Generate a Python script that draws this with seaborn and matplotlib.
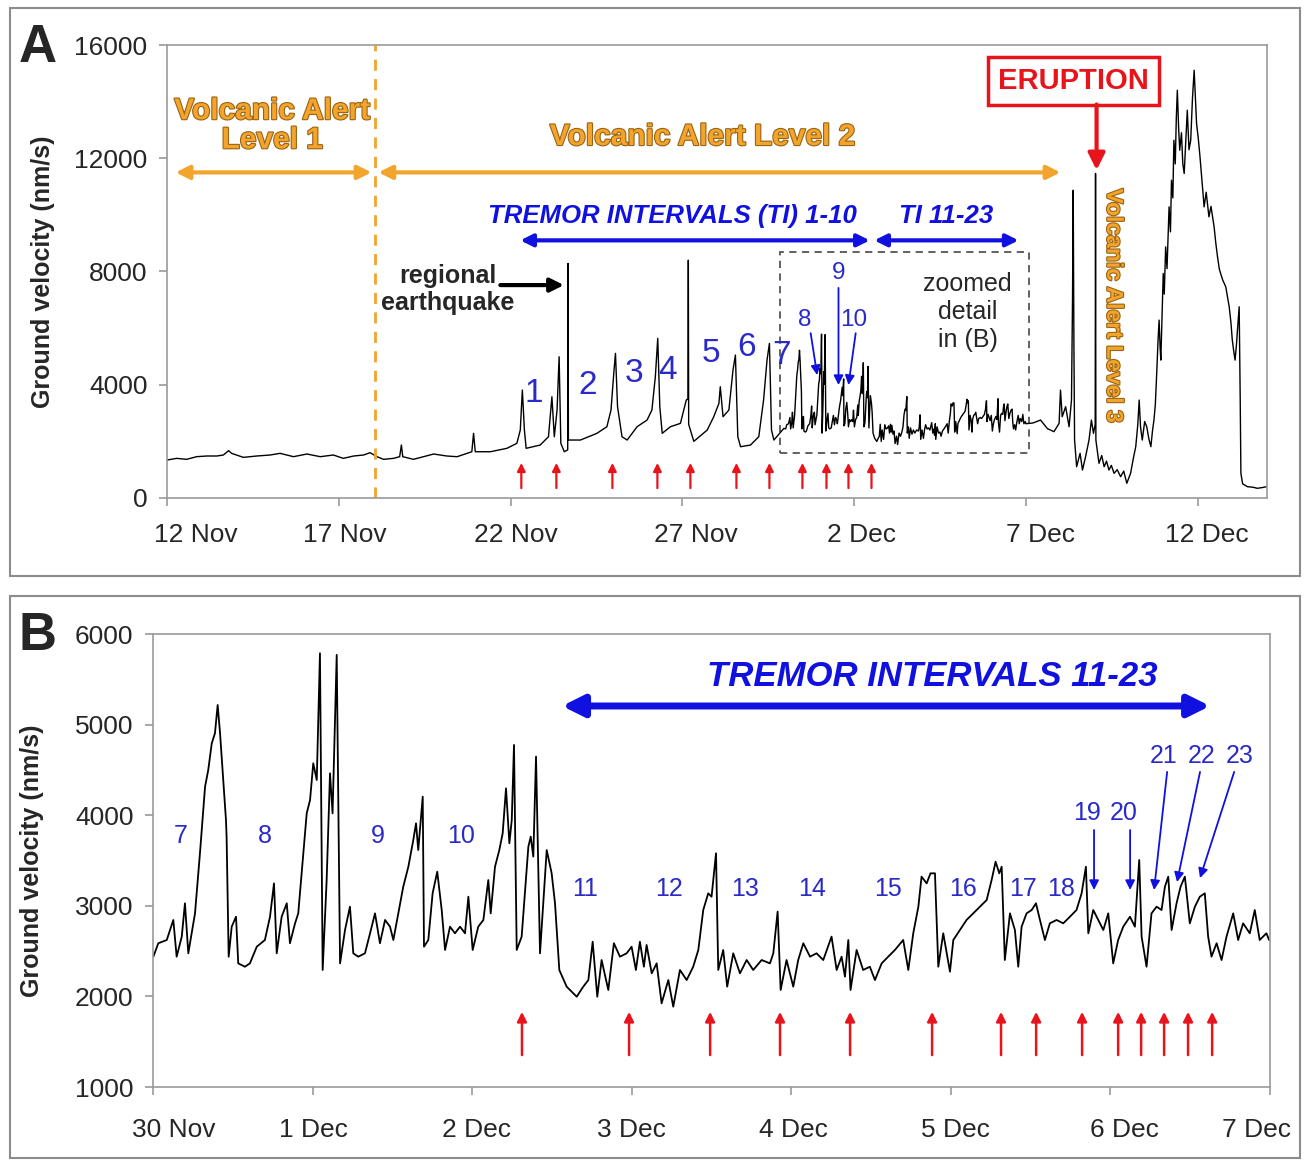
import matplotlib
matplotlib.use('Agg')
import matplotlib.pyplot as plt
import matplotlib.patheffects as pe
import matplotlib.transforms as mtrans
from matplotlib.patches import Rectangle
import pandas as pd
import seaborn as sns

# ---- panel A trace before the zoomed window (days after 12 Nov) ----
pre_days = [0, 0.28, 0.57, 0.86, 1.16, 1.45, 1.64, 1.79, 1.88, 2.22, 2.61, 3.0, 3.29, 3.68,
            4.07, 4.46, 4.84, 5.13, 5.43, 5.72, 5.91, 6.11, 6.3, 6.59, 6.77, 6.82, 6.86,
            7.17, 7.46, 7.76, 8.14, 8.44, 8.87, 8.92, 8.97, 9.41, 9.89, 10.18, 10.28,
            10.34, 10.4, 10.45, 10.86, 11.1, 11.2, 11.27, 11.35, 11.41, 11.46, 11.56,
            11.66, 11.67, 11.68, 12.03, 12.51, 12.8, 12.92, 13.0, 13.05, 13.11, 13.24,
            13.39, 13.68, 13.97, 14.11, 14.21, 14.28, 14.34, 14.41, 14.65, 14.94, 15.11,
            15.16, 15.17, 15.18, 15.33, 15.72, 15.91, 16.06, 16.1, 16.18, 16.35, 16.47,
            16.54, 16.61, 16.69, 16.98, 17.22, 17.36, 17.46, 17.53, 17.59, 17.66, 17.95]
pre_vel = [1341, 1400, 1365, 1459, 1483, 1483, 1518, 1671, 1577, 1435, 1483, 1518, 1577, 1459,
           1553, 1459, 1518, 1400, 1483, 1518, 1600, 1459, 1365, 1400, 1459, 1871, 1459,
           1365, 1459, 1553, 1483, 1458, 1634, 2284, 1634, 1634, 1754, 1931, 2400,
           3812, 2400, 1754, 1871, 2164, 3576, 2164, 3106, 4988, 1931, 1634,
           1700, 8285, 2047, 2047, 2284, 2518, 3106, 4402, 5108, 3223, 2164,
           2047, 2518, 2754, 3106, 4283, 5638, 3223, 2284, 2518, 2636, 3459,
           3500, 8400, 2600, 2000, 2400, 2871, 3341, 3929, 2871, 3106, 4518,
           5048, 2164, 1811, 1871, 2164, 3459, 4871, 5461, 2400, 2047, 2459]

# ---- panel B trace (days after 30 Nov) ----
b_days = [0.002, 0.033, 0.086, 0.127, 0.148, 0.18, 0.2, 0.221, 0.263, 0.294, 0.326, 0.346,
          0.368, 0.388, 0.405, 0.42, 0.44, 0.457, 0.461, 0.474, 0.493, 0.52, 0.534, 0.576,
          0.607, 0.65, 0.701, 0.733, 0.758, 0.775, 0.806, 0.838, 0.858, 0.89, 0.91, 0.942,
          0.963, 0.984, 1.004, 1.026, 1.046, 1.063, 1.088, 1.109, 1.125, 1.151, 1.172,
          1.203, 1.234, 1.255, 1.286, 1.328, 1.36, 1.391, 1.422, 1.454, 1.485, 1.506,
          1.537, 1.568, 1.6, 1.631, 1.648, 1.662, 1.69, 1.698, 1.725, 1.752, 1.781, 1.809,
          1.83, 1.861, 1.892, 1.924, 1.955, 1.976, 2.003, 2.038, 2.07, 2.101, 2.116, 2.143,
          2.17, 2.191, 2.212, 2.233, 2.248, 2.262, 2.279, 2.31, 2.352, 2.367, 2.383, 2.4,
          2.425, 2.467, 2.498, 2.519, 2.546,
          2.592, 2.655, 2.696, 2.728, 2.755, 2.784, 2.811, 2.853, 2.888, 2.926, 2.968,
          2.999, 3.026, 3.051, 3.076, 3.093, 3.125, 3.156, 3.187, 3.229, 3.26, 3.302,
          3.344, 3.385, 3.417, 3.448, 3.479, 3.5, 3.528, 3.542, 3.573, 3.598, 3.636,
          3.678, 3.72, 3.761, 3.814, 3.866, 3.887, 3.914, 3.933, 3.97, 4.012, 4.043,
          4.075, 4.117, 4.158, 4.2, 4.252, 4.284, 4.315, 4.336, 4.357, 4.371, 4.409,
          4.45, 4.492, 4.524, 4.566, 4.607, 4.649, 4.701, 4.733, 4.764, 4.796, 4.816,
          4.848, 4.872, 4.9, 4.921,
          4.952, 4.994, 5.015, 5.056, 5.098, 5.14, 5.182, 5.224, 5.255, 5.28, 5.303,
          5.318, 5.338, 5.37, 5.401, 5.422, 5.443, 5.474, 5.506, 5.533, 5.558, 5.589,
          5.62, 5.662, 5.704, 5.746, 5.787, 5.819, 5.846, 5.861, 5.892, 5.923, 5.955,
          5.986, 6.017, 6.048, 6.08, 6.122, 6.153, 6.18, 6.195, 6.226, 6.257, 6.289,
          6.32, 6.341, 6.362, 6.383, 6.414, 6.439, 6.466, 6.497, 6.529, 6.56, 6.591,
          6.612, 6.633, 6.665, 6.696, 6.727, 6.769, 6.8, 6.831, 6.873, 6.904, 6.935,
          6.977, 6.994]
b_vel = [2439, 2587, 2623, 2844, 2439, 2660, 3028, 2476, 2917, 3580, 4315, 4500,
         4794, 4905, 5217, 4905, 4389, 3948, 3764, 2439, 2770, 2880, 2365, 2328,
         2365, 2549, 2623, 2880, 3248, 2476, 2880, 3028, 2587, 2807, 2917, 3580,
         4021, 4169, 4573, 4389, 5788, 2292, 3285, 4463, 4021, 5770, 2365,
         2733, 2991, 2476, 2439, 2476, 2697, 2917, 2587, 2844, 2770, 2623,
         2917, 3211, 3432, 3727, 3911, 3616, 4205, 2549, 2623, 3138, 3377, 2954,
         2513, 2770, 2697, 2770, 2697, 3101, 2513, 2770, 2844, 3285, 2917, 3432,
         3616, 3800, 4297, 3690, 3948, 4776, 2513, 2660, 3653, 3764, 3543, 4647,
         2476, 3616, 3359, 3028, 2292,
         2108, 1997, 2108, 2181, 2604, 1997, 2402, 2071, 2587, 2439, 2476,
         2549, 2292, 2604, 2328, 2568, 2255, 2365, 1924, 2181, 1887, 2292,
         2181, 2328, 2513, 2954, 3138, 3101, 3580, 2292, 2513, 2108, 2476,
         2255, 2402, 2292, 2402, 2365, 2476, 2936, 2071, 2402, 2108, 2402,
         2587, 2439, 2476, 2402, 2660, 2292, 2439, 2218, 2623, 2071, 2513,
         2292, 2328, 2181, 2365, 2439, 2513, 2623, 2292, 2697, 2991, 3322,
         3248, 3359, 3359, 2328,
         2697, 2273, 2623, 2733, 2844, 2917, 2991, 3064, 3285, 3487, 3359,
         3432, 2402, 2917, 2733, 2328, 2770, 2917, 2954, 3028, 2844, 2623,
         2807, 2844, 2807, 2880, 2954, 3138, 3432, 2697, 2954, 2844, 2733,
         2917, 2365, 2623, 2770, 2880, 2770, 3506, 2660, 2328, 2917, 2991,
         2954, 3211, 3322, 2733, 3028, 3211, 3322, 2807, 2991, 3101, 3138,
         2660, 2439, 2587, 2402, 2660, 2917, 2623, 2807, 2697, 2954, 2623,
         2697, 2623]

# ---- panel A trace after 7 Dec (days after 12 Nov) ----
post_days = [25.2, 25.42, 25.62, 25.81, 25.96, 26.0, 26.05, 26.15, 26.25, 26.32, 26.35,
             26.37, 26.39, 26.41, 26.47, 26.57, 26.64, 26.73, 26.83, 26.9, 26.96, 27.01,
             27.02, 27.03, 27.12, 27.2, 27.27, 27.34, 27.41, 27.48, 27.56, 27.65, 27.75,
             27.84, 27.93, 28.04, 28.12, 28.19, 28.25, 28.29, 28.33, 28.38, 28.45, 28.51,
             28.57, 28.63, 28.68, 28.72, 28.76, 28.8, 28.84, 28.87, 28.9, 28.92, 28.96,
             28.99, 29.02, 29.06, 29.1, 29.16, 29.2, 29.23, 29.27, 29.3, 29.34, 29.37,
             29.4, 29.44, 29.47, 29.52, 29.56, 29.6, 29.65, 29.69, 29.74, 29.79, 29.84,
             29.89, 29.93, 29.96, 30.01, 30.06, 30.11, 30.18, 30.24, 30.32, 30.38, 30.47,
             30.52, 30.57, 30.62, 30.66, 30.72, 30.81, 30.86, 30.91, 30.96, 31.0, 31.04,
             31.08, 31.12, 31.15, 31.2, 31.23, 31.25, 31.3, 31.44, 31.6, 31.73, 31.88,
             32.0]
post_vel = [2650, 2753, 2450, 2342, 2636, 3812, 2871, 3224, 2518, 3459, 6989,
            10870, 5577, 2047, 1105, 1578, 988, 1458, 2047, 2753, 2284, 2600,
            11462, 2047, 1225, 1500, 1105, 1300, 988, 1150, 871, 1000, 752,
            950, 519, 871, 1400, 1811, 2600, 3459, 2500, 2047, 2700, 2518,
            2100, 1811, 2400, 2753, 3300, 4401, 5600, 6283, 5300, 4871, 6600,
            7931, 7200, 8871, 8100, 10283, 9400, 11224, 10600, 12637, 11800, 13400,
            14402, 13000, 12284, 12900, 11800, 11462, 12700, 13696, 12300, 12637, 14100,
            15108, 14000, 13226, 12700, 12049, 11300, 10283, 10800, 9932, 10300, 9579,
            9000, 8518, 8100, 7931, 7700, 7459, 7100, 6753, 6200, 5577, 5200,
            4871, 5400, 5930, 6753, 3500, 871, 500, 399, 380, 342, 370,
            399]

# red arrows: sharp drops at the end of tremor intervals
a_drop_days = [10.31, 11.33, 12.96, 14.27, 15.23, 16.57, 17.53, 18.49, 19.19, 19.83, 20.5]
b_drop_days = [2.312, 2.983, 3.491, 3.929, 4.368, 4.882, 5.314, 5.534, 5.822, 6.048,
               6.192, 6.336, 6.486, 6.637]

a_ticks = [0, 5, 10, 15, 20, 25, 30]
a_ticklabels = ['12 Nov', '17 Nov', '22 Nov', '27 Nov', '2 Dec', '7 Dec', '12 Dec']
a_yticks = [0, 4000, 8000, 12000, 16000]
b_ticks = [0, 1, 2, 3, 4, 5, 6, 7]
b_ticklabels = ['30 Nov', '1 Dec', '2 Dec', '3 Dec', '4 Dec', '5 Dec', '6 Dec', '7 Dec']
b_yticks = [1000, 2000, 3000, 4000, 5000, 6000]

df_a = pd.DataFrame({'day': pre_days + [18 + d for d in b_days] + post_days,
                     'vel': pre_vel + b_vel + post_vel})
df_b = pd.DataFrame({'day': b_days, 'vel': b_vel})

sns.set_style('white')
plt.rcParams['font.family'] = ['Liberation Sans', 'DejaVu Sans']

ORANGE = '#f2a42c'
ORANGE_EDGE = '#9a6414'
BLUE = '#1010e0'
BLUE_TXT = '#2a2ac8'
RED = '#e8141c'
GREY = '#9a9a9a'

fig = plt.figure(figsize=(13.08, 11.6), dpi=100)
axA = fig.add_axes([0.1277, 0.5707, 0.8407, 0.3905])
axB = fig.add_axes([0.1170, 0.0629, 0.8540, 0.3905])

# panel frames
for y0, h in [(0.5034, 0.4897), (0.0017, 0.4845)]:
    fig.patches.append(Rectangle((0.0076, y0), 0.986, h, transform=fig.transFigure,
                                 fill=False, edgecolor='#8c8c8c', lw=1.5))

sns.lineplot(data=df_a, x='day', y='vel', ax=axA, color='black', lw=1.0,
             estimator=None, sort=False)
sns.lineplot(data=df_b, x='day', y='vel', ax=axB, color='black', lw=1.3,
             estimator=None, sort=False)


def style_axis(ax, xt, xl, yt, xlim, ylim, label_x, xpad, nudges):
    ax.set_xlim(*xlim)
    ax.set_ylim(*ylim)
    ax.set_xticks(xt)
    ax.set_xticklabels(xl)
    ax.set_yticks(yt)
    ax.set_yticklabels([str(v) for v in yt])
    ax.tick_params(axis='both', labelsize=19, direction='out', length=6,
                   color=GREY, width=1.2, bottom=True, left=True, pad=8)
    ax.tick_params(axis='x', pad=xpad)
    for s in ax.spines.values():
        s.set_color(GREY)
        s.set_linewidth(1.2)
    ax.set_xlabel('')
    ax.set_ylabel('Ground velocity (nm/s)', fontsize=18, fontweight='bold')
    ax.yaxis.set_label_coords(label_x, 0.5)
    # the labels in the original sit a little off their ticks
    for lbl, dx in zip(ax.get_xticklabels(), nudges):
        lbl.set_transform(lbl.get_transform() +
                          mtrans.ScaledTranslation(dx / 100, 0, fig.dpi_scale_trans))


style_axis(axA, a_ticks, a_ticklabels, a_yticks, (0, 32), (0, 16000), -0.102, 12,
           [29, 6, 5, 13, 7, 14, 9])
style_axis(axB, b_ticks, b_ticklabels, b_yticks, (0, 7), (1000, 6000), -0.098, 16,
           [21, 1, 4, 0, 2, 5, 14, -14])

fig.text(0.029, 0.9586, 'A', fontsize=38, fontweight='bold', ha='center', va='center')
fig.text(0.029, 0.4517, 'B', fontsize=38, fontweight='bold', ha='center', va='center')


def arrow(ax, x0, y0, x1, y1, color, lw, ms, style='-|>'):
    ax.annotate('', xy=(x1, y1), xytext=(x0, y0),
                arrowprops=dict(arrowstyle=style, color=color, lw=lw,
                                mutation_scale=ms, shrinkA=0, shrinkB=0))


outline = [pe.withStroke(linewidth=1.6, foreground=ORANGE_EDGE)]

# ---------------- panel A annotations ----------------
axA.axvline(6.06, color=ORANGE, lw=2, ls=(0, (4, 3)))
arrow(axA, 0.25, 11500, 5.95, 11500, ORANGE, 3, 20, '<|-|>')
arrow(axA, 6.15, 11500, 26.0, 11500, ORANGE, 3, 20, '<|-|>')
axA.text(3.06, 13150, 'Volcanic Alert\nLevel 1', color=ORANGE, fontsize=21.5,
         fontweight='bold', ha='center', va='center', linespacing=1.05,
         path_effects=outline)
axA.text(15.58, 12750, 'Volcanic Alert Level 2', color=ORANGE, fontsize=21.5,
         fontweight='bold', ha='center', va='center', path_effects=outline)
axA.text(27.55, 6800, 'Volcanic Alert Level 3', color=ORANGE, fontsize=16.5,
         fontweight='bold', ha='center', va='center', rotation=-90,
         path_effects=outline)

arrow(axA, 10.28, 9100, 20.45, 9100, BLUE, 3, 18, '<|-|>')
arrow(axA, 20.58, 9100, 24.78, 9100, BLUE, 3, 18, '<|-|>')
axA.text(14.71, 9950, 'TREMOR INTERVALS (TI) 1-10', color=BLUE, fontsize=18.5,
         fontweight='bold', fontstyle='italic', ha='center', va='center')
axA.text(22.66, 9950, 'TI 11-23', color=BLUE, fontsize=18.5,
         fontweight='bold', fontstyle='italic', ha='center', va='center')

axA.text(8.18, 7350, 'regional\nearthquake', fontsize=18, fontweight='bold',
         ha='center', va='center', linespacing=1.15)
arrow(axA, 9.7, 7520, 11.55, 7520, 'black', 3, 20)

for lab, x, y in [('1', 10.66, 3700), ('2', 12.23, 3990), ('3', 13.6, 4380),
                  ('4', 14.56, 4520), ('5', 15.84, 5120), ('6', 16.86, 5330),
                  ('7', 17.88, 5050)]:
    axA.text(x, y, lab, color=BLUE_TXT, fontsize=24, ha='center', va='center')
for lab, x, y in [('8', 18.55, 6280), ('9', 19.54, 7940), ('10', 19.98, 6280)]:
    axA.text(x, y, lab, color=BLUE_TXT, fontsize=17.5, ha='center', va='center')
arrow(axA, 18.73, 5820, 18.92, 4340, BLUE, 1.3, 14)
arrow(axA, 19.54, 7420, 19.54, 3990, BLUE, 1.3, 14)
arrow(axA, 20.04, 5820, 19.83, 3990, BLUE, 1.3, 14)

axA.add_patch(Rectangle((17.85, 1590), 7.22, 7095, fill=False, edgecolor='#555555',
                        lw=1.3, ls=(0, (4, 3))))
axA.text(23.3, 6560, 'zoomed\ndetail\nin (B)', fontsize=18, ha='center', va='center',
         linespacing=1.2)

axA.text(26.38, 14720, 'ERUPTION', color=RED, fontsize=21, fontweight='bold',
         ha='center', va='center',
         bbox=dict(boxstyle='square,pad=0.35', fc='white', ec=RED, lw=2.5))
arrow(axA, 27.05, 13900, 27.05, 11580, RED, 3, 25)

for d in a_drop_days:
    arrow(axA, d, 350, d, 1240, RED, 1.6, 12)

# ---------------- panel B annotations ----------------
arrow(axB, 2.563, 5206, 6.624, 5206, BLUE, 5, 32, '<|-|>')
axB.text(4.882, 5530, 'TREMOR INTERVALS 11-23', color=BLUE, fontsize=25,
         fontweight='bold', fontstyle='italic', ha='center', va='center')

for lab, x, y in [('7', 0.175, 3771), ('8', 0.702, 3771), ('9', 1.41, 3771),
                  ('10', 1.93, 3771), ('11', 2.707, 3186), ('12', 3.234, 3186),
                  ('13', 3.71, 3186), ('14', 4.13, 3186), ('15', 4.606, 3186),
                  ('16', 5.076, 3186), ('17', 5.452, 3186), ('18', 5.69, 3186),
                  ('19', 5.853, 4025), ('20', 6.085, 4025), ('21', 6.33, 4654),
                  ('22', 6.574, 4654), ('23', 6.812, 4654)]:
    axB.text(x, y, lab, color=BLUE_TXT, fontsize=18, ha='center', va='center')

arrow(axB, 5.897, 3837, 5.897, 3175, BLUE, 1.3, 14)
arrow(axB, 6.123, 3837, 6.123, 3175, BLUE, 1.3, 14)
arrow(axB, 6.355, 4478, 6.273, 3175, BLUE, 1.3, 14)
arrow(axB, 6.561, 4478, 6.417, 3263, BLUE, 1.3, 14)
arrow(axB, 6.775, 4478, 6.561, 3307, BLUE, 1.3, 14)

for d in b_drop_days:
    arrow(axB, d, 1353, d, 1830, RED, 1.8, 14)

fig.savefig('out.png', dpi=100)
